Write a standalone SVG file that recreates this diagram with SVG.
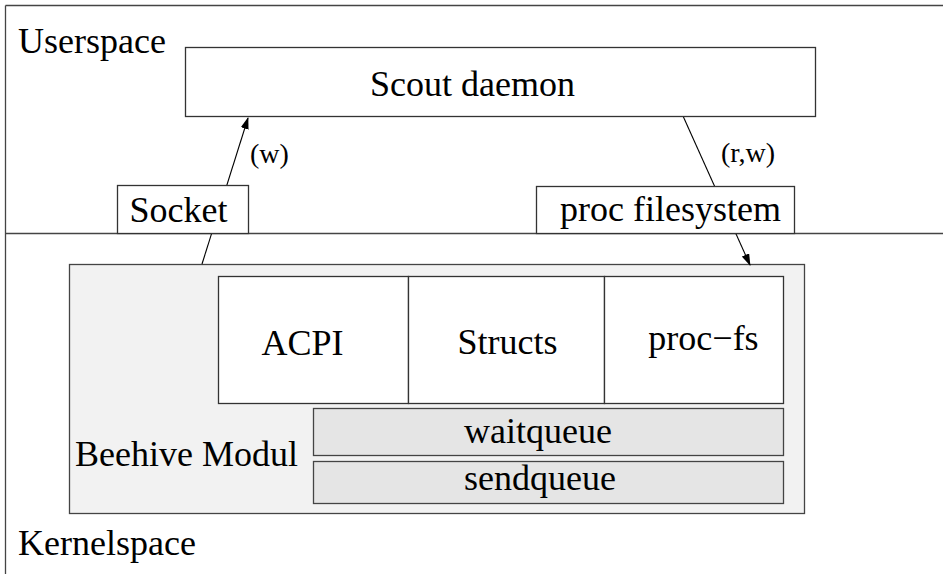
<svg xmlns="http://www.w3.org/2000/svg" width="943" height="574" viewBox="0 0 943 574" font-family="'Liberation Serif', 'DejaVu Serif', serif">
<style>
text{font-family:'Liberation Serif','DejaVu Serif',serif;fill:#000}
.t{font-size:36px}
.s{font-size:28px}
.b{stroke:#333;stroke-width:1.3;fill:#fff}
.c{stroke:#000;stroke-width:1.1;fill:none}
</style>
<defs>
<marker id="ah" markerWidth="12" markerHeight="8" refX="11" refY="4" orient="auto" markerUnits="userSpaceOnUse">
<path d="M0,0 L12,4 L0,8 Z" fill="#000"/>
</marker>
</defs>
<rect width="943" height="574" fill="#fff"/>
<g id="frame">
<line x1="5.5" y1="5.5" x2="943" y2="5.5" stroke="#444" stroke-width="1.3"/>
<line x1="5.5" y1="5.5" x2="5.5" y2="574" stroke="#444" stroke-width="1.3"/>
<line x1="5.5" y1="233.5" x2="943" y2="233.5" stroke="#444" stroke-width="1.3"/>
<text class="t" x="18" y="53">Userspace</text>
<text class="t" x="18" y="555">Kernelspace</text>
</g>
<g id="beehive">
<rect x="69.5" y="264.5" width="735" height="249" fill="#f2f2f2" stroke="#444" stroke-width="1.3"/>
<text class="t" x="75" y="466">Beehive Modul</text>
</g>
<g id="connectors">
<line class="c" x1="202" y1="264" x2="248" y2="118" marker-end="url(#ah)"/>
<line class="c" x1="683" y1="116" x2="750" y2="265" marker-end="url(#ah)"/>
<text class="s" x="250" y="163">(w)</text>
<text class="s" x="721" y="162">(r,w)</text>
</g>
<g id="scout">
<rect class="b" x="185.5" y="47.5" width="630" height="69"/>
<text class="t" x="472.5" y="96" text-anchor="middle">Scout daemon</text>
</g>
<g id="socket">
<rect class="b" x="117.5" y="185.5" width="131" height="48"/>
<text class="t" x="178.5" y="222" text-anchor="middle">Socket</text>
</g>
<g id="procfilesystem">
<rect class="b" x="536.5" y="186.5" width="258" height="47"/>
<text class="t" x="670.5" y="221" text-anchor="middle">proc filesystem</text>
</g>
<g id="acpi">
<rect class="b" x="218.5" y="276.5" width="190" height="127"/>
<text class="t" x="302.5" y="355" text-anchor="middle">ACPI</text>
</g>
<g id="structs">
<rect class="b" x="408.5" y="276.5" width="196" height="127"/>
<text class="t" x="507.5" y="354" text-anchor="middle">Structs</text>
</g>
<g id="procfs">
<rect class="b" x="604.5" y="276.5" width="179" height="127"/>
<text class="t" x="703.5" y="350" text-anchor="middle">proc−fs</text>
</g>
<g id="waitqueue">
<rect x="313.5" y="408.5" width="470" height="47" fill="#e5e5e5" stroke="#444" stroke-width="1.3"/>
<text class="t" x="538" y="443" text-anchor="middle">waitqueue</text>
</g>
<g id="sendqueue">
<rect x="313.5" y="461.5" width="470" height="42" fill="#e5e5e5" stroke="#444" stroke-width="1.3"/>
<text class="t" x="540" y="490" text-anchor="middle">sendqueue</text>
</g>
</svg>
